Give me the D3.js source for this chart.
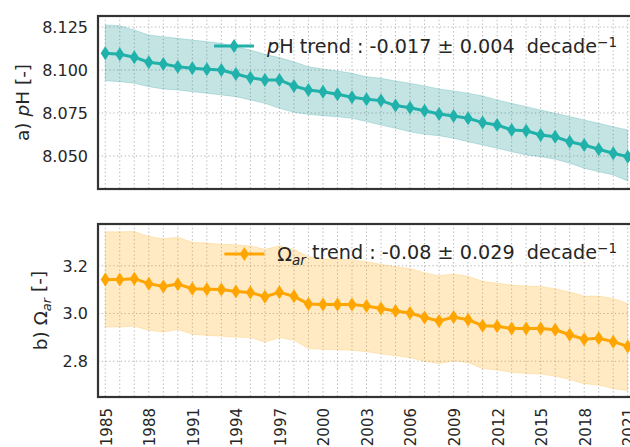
<!DOCTYPE html>
<html>
<head>
<meta charset="utf-8">
<script src="https://cdn.jsdelivr.net/npm/d3@7"></script>
<style>
  body { margin: 0; background: #fff; }
  svg { display: block; font-family: "DejaVu Sans", sans-serif; }
  .tick-label { fill: #262626; font-size: 16px; }
  .x-label { fill: #262626; font-size: 15px; }
  .grid line { stroke: #b4b4b4; stroke-width: 1; stroke-dasharray: 1.3,2.5; }
  .legend-text { white-space: pre; }
</style>
</head>
<body>
<div id="chart"></div>
<script>
var svgWidth = 630;
var svgHeight = 447;

// data
var years = [1985, 1986, 1987, 1988, 1989, 1990, 1991, 1992, 1993, 1994, 1995, 1996, 1997,
  1998, 1999, 2000, 2001, 2002, 2003, 2004, 2005, 2006, 2007, 2008, 2009, 2010, 2011,
  2012, 2013, 2014, 2015, 2016, 2017, 2018, 2019, 2020, 2021];
var yearTicks = [1985, 1988, 1991, 1994, 1997, 2000, 2003, 2006, 2009, 2012, 2015, 2018, 2021];

var phMean = [8.1097, 8.1091, 8.1074, 8.1045, 8.1035, 8.1019, 8.1010, 8.1004, 8.1000, 8.0977,
  8.0955, 8.0942, 8.0942, 8.0907, 8.0884, 8.0874, 8.0859, 8.0841, 8.0830, 8.0822, 8.0793,
  8.0781, 8.0763, 8.0744, 8.0733, 8.0719, 8.0694, 8.0680, 8.0651, 8.0647, 8.0622, 8.0612,
  8.0583, 8.0564, 8.0539, 8.0516, 8.0496];
var phUpper = [8.1262, 8.1258, 8.1233, 8.1203, 8.1194, 8.1184, 8.1174, 8.1165, 8.1155, 8.1135,
  8.1116, 8.1091, 8.1072, 8.1048, 8.1019, 8.1006, 8.0994, 8.0981, 8.0961, 8.0952, 8.0936,
  8.0923, 8.0907, 8.0890, 8.0878, 8.0865, 8.0849, 8.0826, 8.0806, 8.0787, 8.0767, 8.0748,
  8.0729, 8.0709, 8.0690, 8.0670, 8.0651];
var phLower = [8.0938, 8.0932, 8.0923, 8.0903, 8.0890, 8.0884, 8.0874, 8.0865, 8.0855, 8.0845,
  8.0826, 8.0806, 8.0777, 8.0754, 8.0742, 8.0734, 8.0728, 8.0719, 8.0700, 8.0680, 8.0661,
  8.0641, 8.0626, 8.0618, 8.0603, 8.0583, 8.0564, 8.0545, 8.0525, 8.0506, 8.0496, 8.0481,
  8.0458, 8.0429, 8.0409, 8.0390, 8.0355];
var phTicks = [8.050, 8.075, 8.100, 8.125];

var omMean = [3.142, 3.142, 3.146, 3.125, 3.113, 3.123, 3.104, 3.102, 3.100, 3.092, 3.088,
  3.070, 3.089, 3.072, 3.040, 3.038, 3.038, 3.038, 3.031, 3.021, 3.010, 3.002, 2.983, 2.969,
  2.985, 2.974, 2.949, 2.946, 2.937, 2.937, 2.937, 2.932, 2.911, 2.892, 2.896, 2.882, 2.862];
var omUpper = [3.342, 3.342, 3.344, 3.323, 3.313, 3.319, 3.298, 3.295, 3.290, 3.288, 3.283,
  3.269, 3.283, 3.269, 3.238, 3.229, 3.227, 3.225, 3.217, 3.206, 3.196, 3.188, 3.171, 3.158,
  3.165, 3.156, 3.135, 3.127, 3.119, 3.115, 3.113, 3.104, 3.090, 3.073, 3.073, 3.063, 3.042];
var omLower = [2.943, 2.943, 2.947, 2.930, 2.922, 2.933, 2.913, 2.908, 2.905, 2.901, 2.899,
  2.880, 2.899, 2.888, 2.853, 2.850, 2.848, 2.846, 2.840, 2.831, 2.823, 2.815, 2.800, 2.790,
  2.802, 2.794, 2.769, 2.763, 2.754, 2.748, 2.746, 2.738, 2.723, 2.706, 2.700, 2.685, 2.677];
var omTicks = [2.8, 3.0, 3.2];

var svg = d3.select("#chart")
  .append("svg")
  .attr("width", svgWidth)
  .attr("height", svgHeight);

var left = 98, right = 635;

var xScale = d3.scaleLinear()
  .domain([1984.5, 2021.5])
  .range([left, right]);

var diamond = "M0,-7L4.6,0L0,7L-4.6,0Z";

// one panel = frame, grid, band, line with diamonds, legend, y label
function drawPanel(opt) {
  var yScale = d3.scaleLinear().domain(opt.domain).range([opt.bottom, opt.top]);
  var g = svg.append("g");
  var clipId = "clip" + opt.id;
  svg.append("clipPath").attr("id", clipId)
    .append("rect")
    .attr("x", left).attr("y", opt.top)
    .attr("width", right - left).attr("height", opt.bottom - opt.top);

  // grid
  var grid = g.append("g").attr("class", "grid").attr("clip-path", `url(#${clipId})`);
  grid.selectAll(".vx").data(years).enter().append("line")
    .attr("x1", d => xScale(d)).attr("x2", d => xScale(d))
    .attr("y1", opt.top).attr("y2", opt.bottom);
  grid.selectAll(".hy").data(opt.ticks).enter().append("line")
    .attr("x1", left).attr("x2", right)
    .attr("y1", d => yScale(d)).attr("y2", d => yScale(d));

  var rows = years.map((y, i) => ({ year: y, m: opt.mean[i], lo: opt.lower[i], hi: opt.upper[i] }));
  var plot = g.append("g").attr("clip-path", `url(#${clipId})`);

  plot.append("path")
    .datum(rows)
    .attr("d", d3.area().x(d => xScale(d.year)).y0(d => yScale(d.lo)).y1(d => yScale(d.hi)))
    .attr("fill", opt.bandColor)
    .attr("fill-opacity", 0.23)
    .attr("stroke", opt.bandColor)
    .attr("stroke-opacity", 0.2);

  plot.append("path")
    .datum(rows)
    .attr("d", d3.line().x(d => xScale(d.year)).y(d => yScale(d.m)))
    .attr("fill", "none")
    .attr("stroke", opt.color)
    .attr("stroke-width", 3);

  plot.selectAll(".mk").data(rows).enter().append("path")
    .attr("d", diamond)
    .attr("transform", d => `translate(${xScale(d.year)},${yScale(d.m)})`)
    .attr("fill", opt.color);

  // frame
  g.append("rect")
    .attr("x", left).attr("y", opt.top)
    .attr("width", right - left).attr("height", opt.bottom - opt.top)
    .attr("fill", "none").attr("stroke", "#333").attr("stroke-width", 2.2);

  // y tick labels
  g.selectAll(".yt").data(opt.ticks).enter().append("text")
    .attr("class", "tick-label")
    .attr("x", left - 10)
    .attr("y", d => yScale(d))
    .attr("dy", "0.36em")
    .attr("text-anchor", "end")
    .text(d => d3.format(opt.fmt)(d));

  // y label
  var lab = g.append("text")
    .attr("transform", `translate(${opt.labelX},${(opt.top + opt.bottom) / 2}) rotate(-90)`)
    .attr("text-anchor", "middle")
    .attr("fill", "#262626")
    .style("font-size", "18.5px");
  opt.label(lab);

  // legend (right aligned)
  var legY = opt.top + 30;
  var lt = g.append("text")
    .attr("class", "legend-text")
    .attr("y", legY)
    .attr("dy", "0.36em")
    .attr("fill", "#262626")
    .style("font-size", "19.2px");
  opt.legend(lt);
  var w = lt.node().getComputedTextLength();
  var tx = 617 - w;
  lt.attr("x", tx);
  g.append("line")
    .attr("x1", tx - 53).attr("x2", tx - 13)
    .attr("y1", legY).attr("y2", legY)
    .attr("stroke", opt.color).attr("stroke-width", 3);
  g.append("path")
    .attr("d", diamond)
    .attr("transform", `translate(${tx - 33},${legY})`)
    .attr("fill", opt.color);

  return g;
}

drawPanel({
  id: "a", top: 16, bottom: 189, domain: [8.0308, 8.1314],
  ticks: phTicks, fmt: ".3f",
  mean: phMean, upper: phUpper, lower: phLower,
  color: "#20b2aa", bandColor: "#008b8b", labelX: 29,
  label: function (t) {
    t.append("tspan").text("a) ");
    t.append("tspan").style("font-style", "italic").text("p");
    t.append("tspan").text("H [-]");
  },
  legend: function (t) {
    t.append("tspan").style("font-style", "italic").text("p");
    t.append("tspan").text("H trend : -0.017 \u00b1 0.004\u00a0\u00a0decade");
    t.append("tspan").attr("dy", "-0.45em").style("font-size", "13.5px").text("\u22121");
  }
});

drawPanel({
  id: "b", top: 224, bottom: 397, domain: [2.65, 3.375],
  ticks: omTicks, fmt: ".1f",
  mean: omMean, upper: omUpper, lower: omLower,
  color: "#ffa500", bandColor: "#ffa500", labelX: 47,
  label: function (t) {
    t.append("tspan").text("b) \u03a9");
    t.append("tspan").attr("dy", "0.3em").style("font-style", "italic").style("font-size", "13px").text("ar");
    t.append("tspan").attr("dy", "-0.3em").text(" [-]");
  },
  legend: function (t) {
    t.append("tspan").text("\u03a9");
    t.append("tspan").attr("dy", "0.3em").style("font-style", "italic").style("font-size", "13.5px").text("ar");
    t.append("tspan").attr("dy", "-0.3em").text(" trend : -0.08 \u00b1 0.029\u00a0\u00a0decade");
    t.append("tspan").attr("dy", "-0.45em").style("font-size", "13.5px").text("\u22121");
  }
});

// x tick labels under the lower panel
svg.append("g").selectAll("text")
  .data(yearTicks)
  .enter()
  .append("text")
  .attr("class", "x-label")
  .attr("transform", d => `translate(${xScale(d) + 1},408) rotate(-90)`)
  .attr("text-anchor", "end")
  .attr("dy", "0.36em")
  .text(d => d);
</script>
</body>
</html>
